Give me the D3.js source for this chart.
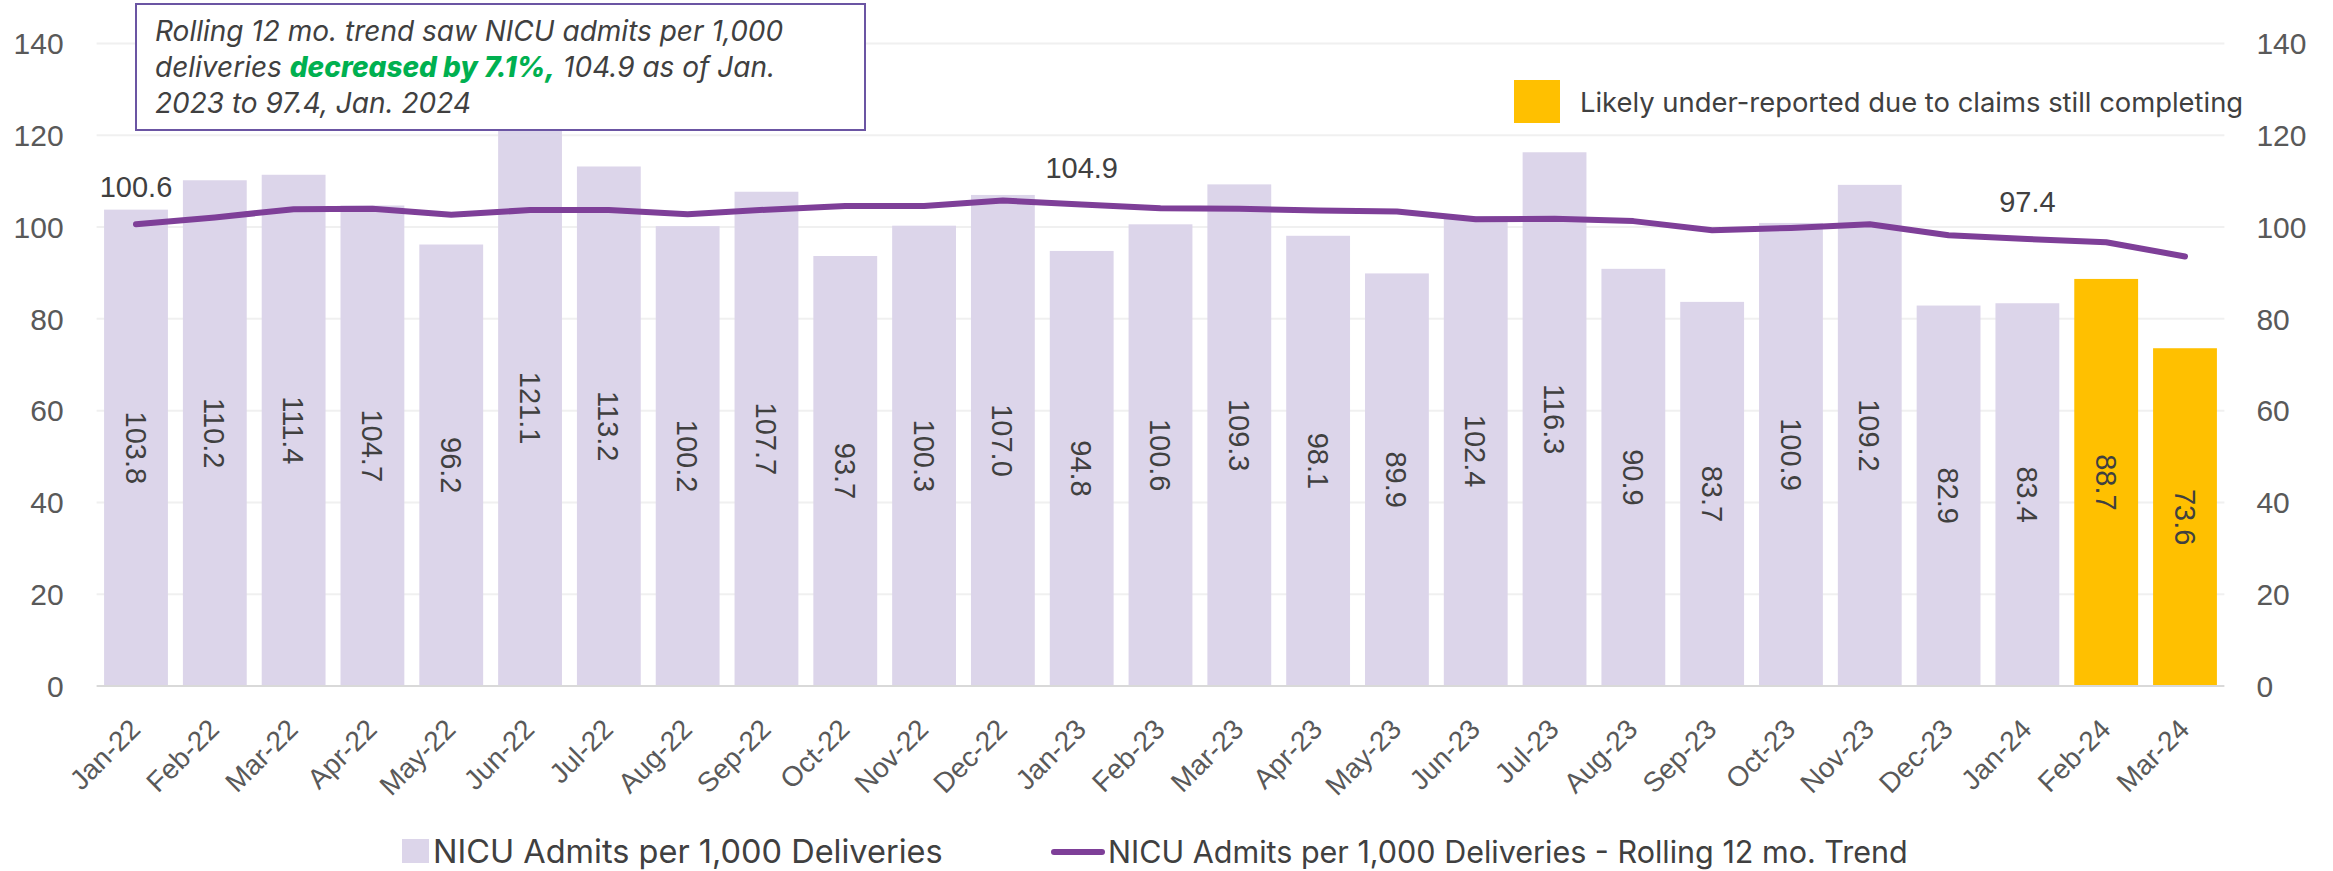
<!DOCTYPE html>
<meta charset="utf-8">
<html>
<head>
  <title>NICU Admits per 1,000 Deliveries</title>
  <style>
    body { margin: 0; background: #fff; }
    svg { display: block; }
    .tick-label { font-family: "Liberation Sans", Arial, sans-serif; font-size: 30px; fill: #595959; }
    .val { font-family: "Liberation Sans", Arial, sans-serif; font-size: 29px; fill: #404040; }
    .xlab { font-family: "Liberation Sans", Arial, sans-serif; font-size: 28px; fill: #595959; }
    .legend { font-family: Inter, "Noto Sans", sans-serif; fill: #404040; }
    .note { font-family: Inter, "Noto Sans", sans-serif; font-size: 28px; font-style: italic; fill: #404040; }
  </style>
</head>
<body>
<svg id="chart" width="2333" height="871"></svg>

<script src="https://d3js.org/d3.v7.min.js"></script>
<script>

const months = ["Jan-22","Feb-22","Mar-22","Apr-22","May-22","Jun-22","Jul-22","Aug-22","Sep-22",
  "Oct-22","Nov-22","Dec-22","Jan-23","Feb-23","Mar-23","Apr-23","May-23","Jun-23","Jul-23",
  "Aug-23","Sep-23","Oct-23","Nov-23","Dec-23","Jan-24","Feb-24","Mar-24"];

const admits = [103.8,110.2,111.4,104.7,96.2,121.1,113.2,100.2,107.7,93.7,100.3,107.0,94.8,
  100.6,109.3,98.1,89.9,102.4,116.3,90.9,83.7,100.9,109.2,82.9,83.4,88.7,73.6];

// rolling 12 mo. trend
const rolling = [100.6,102.1,103.9,104.0,102.7,103.7,103.7,102.8,103.8,104.6,104.6,105.8,104.9,
  104.1,104.0,103.6,103.4,101.7,101.8,101.3,99.3,99.8,100.6,98.2,97.4,96.7,93.6];

const underReported = ["Feb-24","Mar-24"];
const labeledPoints = ["Jan-22","Jan-23","Jan-24"];
const yTicks = [0,20,40,60,80,100,120,140];

const svg = d3.select("#chart");

const x = d3.scaleBand()
  .domain(months)
  .range([96.6, 2224.4])
  .paddingInner(0.19)
  .paddingOuter(0.095);

const y = d3.scaleLinear()
  .domain([0, 140])
  .range([686, 43.5]);

const barColor = "#dcd5ea";
const lateColor = "#ffc000";
const lineColor = "#7e3f98";

// gridlines
svg.append("g")
  .selectAll("line")
  .data(yTicks.filter(d => d > 0))
  .join("line")
  .attr("x1", x.range()[0])
  .attr("x2", x.range()[1])
  .attr("y1", d => y(d))
  .attr("y2", d => y(d))
  .attr("stroke", "#f0f0f0")
  .attr("stroke-width", 2);

// left / right tick labels
svg.append("g")
  .selectAll("text")
  .data(yTicks)
  .join("text")
  .attr("class", "tick-label")
  .attr("x", x.range()[0] - 33)
  .attr("y", d => y(d))
  .attr("dy", "0.36em")
  .attr("text-anchor", "end")
  .text(d => d);

svg.append("g")
  .selectAll("text")
  .data(yTicks)
  .join("text")
  .attr("class", "tick-label")
  .attr("x", x.range()[1] + 32)
  .attr("y", d => y(d))
  .attr("dy", "0.36em")
  .attr("text-anchor", "start")
  .text(d => d);

// bars
const data = months.map((m, i) => ({ month: m, value: admits[i], trend: rolling[i] }));

svg.append("g")
  .selectAll("rect")
  .data(data)
  .join("rect")
  .attr("x", d => x(d.month))
  .attr("width", x.bandwidth())
  .attr("y", d => y(d.value))
  .attr("height", d => y(0) - y(d.value))
  .attr("fill", d => underReported.includes(d.month) ? lateColor : barColor);

// baseline
svg.append("line")
  .attr("x1", x.range()[0])
  .attr("x2", x.range()[1])
  .attr("y1", y(0))
  .attr("y2", y(0))
  .attr("stroke", "#d9d9d9")
  .attr("stroke-width", 2);

// bar value labels, rotated
svg.append("g")
  .selectAll("text")
  .data(data)
  .join("text")
  .attr("class", "val")
  .attr("text-anchor", "middle")
  .attr("dy", "0.36em")
  .attr("transform", d => {
    const cx = x(d.month) + x.bandwidth() / 2;
    const cy = (y(d.value) + y(0)) / 2;
    return `translate(${cx},${cy}) rotate(90)`;
  })
  .text(d => d.value.toFixed(1));

// trend line
const line = d3.line()
  .x(d => x(d.month) + x.bandwidth() / 2)
  .y(d => y(d.trend));

svg.append("path")
  .datum(data)
  .attr("d", line)
  .attr("fill", "none")
  .attr("stroke", lineColor)
  .attr("stroke-width", 6)
  .attr("stroke-linecap", "round")
  .attr("stroke-linejoin", "round");

svg.append("g")
  .selectAll("text")
  .data(data.filter(d => labeledPoints.includes(d.month)))
  .join("text")
  .attr("class", "val")
  .attr("text-anchor", "middle")
  .attr("x", d => x(d.month) + x.bandwidth() / 2)
  .attr("y", d => y(d.trend) - 27)
  .text(d => d.trend.toFixed(1));

// x axis labels
svg.append("g")
  .selectAll("text")
  .data(months)
  .join("text")
  .attr("class", "xlab")
  .attr("text-anchor", "end")
  .attr("transform", d => `translate(${x(d) + x.bandwidth() / 2 + 6},${731}) rotate(-45)`)
  .text(d => d);

// annotation box
const note = svg.append("g");
note.append("rect")
  .attr("x", 136).attr("y", 4)
  .attr("width", 729).attr("height", 126)
  .attr("fill", "#fff")
  .attr("stroke", "#6b55a3")
  .attr("stroke-width", 2);

const noteText = note.append("text").attr("class", "note");
noteText.append("tspan").attr("x", 155).attr("y", 41)
  .text("Rolling 12 mo. trend saw NICU admits per 1,000");
const l2 = noteText.append("tspan").attr("x", 155).attr("y", 77);
l2.append("tspan").text("deliveries ");
l2.append("tspan").attr("fill", "#00b050").attr("font-weight", 800).text("decreased by 7.1%,");
l2.append("tspan").text(" 104.9 as of Jan.");
noteText.append("tspan").attr("x", 155).attr("y", 113)
  .text("2023 to 97.4, Jan. 2024");

// top-right legend
svg.append("rect")
  .attr("x", 1514).attr("y", 80)
  .attr("width", 46).attr("height", 43)
  .attr("fill", lateColor);
svg.append("text")
  .attr("class", "legend")
  .attr("x", 1580).attr("y", 112)
  .style("font-size", "27.4px")
  .text("Likely under-reported due to claims still completing");

// bottom legend
svg.append("rect")
  .attr("x", 402).attr("y", 839)
  .attr("width", 27).attr("height", 24)
  .attr("fill", barColor);
svg.append("text")
  .attr("class", "legend")
  .attr("x", 433).attr("y", 863)
  .style("font-size", "32.5px")
  .text("NICU Admits per 1,000 Deliveries");

svg.append("line")
  .attr("x1", 1054).attr("x2", 1102)
  .attr("y1", 852).attr("y2", 852)
  .attr("stroke", lineColor)
  .attr("stroke-width", 6)
  .attr("stroke-linecap", "round");
svg.append("text")
  .attr("class", "legend")
  .attr("x", 1108).attr("y", 863)
  .style("font-size", "30.5px")
  .text("NICU Admits per 1,000 Deliveries - Rolling 12 mo. Trend");

</script>
</body>
</html>
